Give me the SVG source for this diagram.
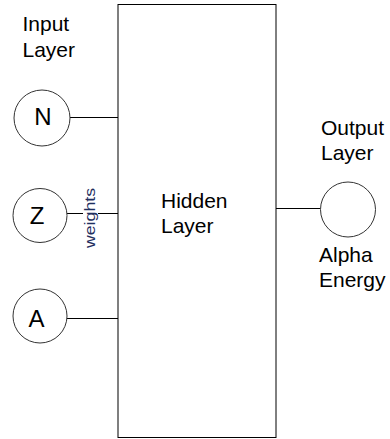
<svg xmlns="http://www.w3.org/2000/svg" width="390" height="439" viewBox="0 0 390 439">
<style>
.t{font-family:"Liberation Sans",Arial,sans-serif;font-size:21px;fill:#000}
.n{font-size:24px}
.c{fill:#fff;stroke:#333;stroke-width:1}
.l{stroke:#000;stroke-width:1;fill:none}
.w{font-family:"Liberation Sans",Arial,sans-serif;font-size:15px;fill:#1f2f5f}
</style>
<rect width="390" height="439" fill="#fff"/>
<g id="labels">
<text class="t" x="22.5" y="30.5">Input</text>
<text class="t" x="22.5" y="56.5">Layer</text>
<text class="t" x="321" y="135">Output</text>
<text class="t" x="321" y="160">Layer</text>
<text class="t" x="319" y="261.5">Alpha</text>
<text class="t" x="319" y="286.5">Energy</text>
</g>
<g id="connectors">
<line class="l" x1="70" y1="117.5" x2="118" y2="117.5"/>
<line class="l" x1="67" y1="213.5" x2="83" y2="213.5"/>
<line class="l" x1="98" y1="213.5" x2="118" y2="213.5"/>
<line class="l" x1="67" y1="318.5" x2="118" y2="318.5"/>
<line class="l" x1="276" y1="208.5" x2="320" y2="208.5"/>
<text class="w" transform="translate(94.5,218) rotate(-90)" text-anchor="middle" textLength="60" lengthAdjust="spacingAndGlyphs">weights</text>
</g>
<g id="hidden">
<rect class="l" x="118" y="4.5" width="158" height="433" stroke="#222"/>
<text class="t" x="161" y="208">Hidden</text>
<text class="t" x="161" y="233">Layer</text>
</g>
<g id="N">
<circle class="c" cx="42" cy="118" r="28"/>
<text class="t n" x="43" y="124.5" text-anchor="middle">N</text>
</g>
<g id="Z">
<circle class="c" cx="40" cy="215.5" r="27"/>
<text class="t n" x="37" y="223.5" text-anchor="middle">Z</text>
</g>
<g id="A">
<circle class="c" cx="40" cy="316" r="27"/>
<text class="t n" x="36.5" y="326.5" text-anchor="middle">A</text>
</g>
<g id="output">
<circle class="c" cx="348" cy="209.5" r="27.5"/>
</g>
</svg>
